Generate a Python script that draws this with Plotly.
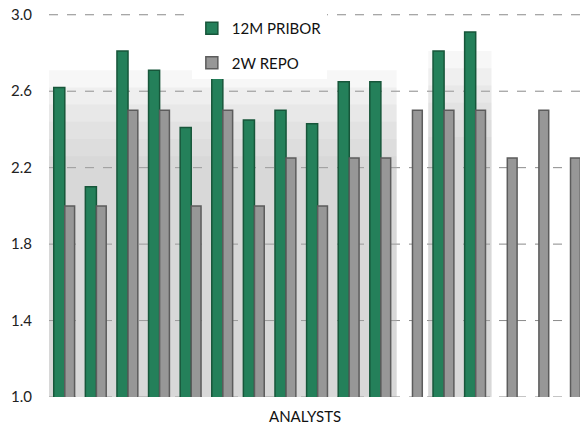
import plotly.graph_objects as go

analysts = [f"A{i}" for i in range(1, 18)]
pribor_12m = [2.62, 2.10, 2.81, 2.71, 2.41, 2.70, 2.45, 2.50, 2.43, 2.65, 2.65, None, 2.81, 2.91, None, None, None]
repo_2w = [2.0, 2.0, 2.5, 2.5, 2.0, 2.5, 2.0, 2.25, 2.0, 2.25, 2.25, 2.5, 2.5, 2.5, 2.25, 2.5, 2.25]
y_ticks = [1.0, 1.4, 1.8, 2.2, 2.6, 3.0]

FONT = "Lato, 'Open Sans', sans-serif"

fig = go.Figure()

fig.add_trace(go.Bar(
    x=analysts, y=pribor_12m, name="12M PRIBOR",
    width=0.35, offset=-0.35,
    marker=dict(color="#24805a", line=dict(color="#17563a", width=1.5)),
    legendgroup="a",
))
fig.add_trace(go.Bar(
    x=analysts, y=repo_2w, name="2W REPO",
    width=0.31, offset=0.0,
    marker=dict(color="#979797", line=dict(color="#5c5c5c", width=1.5)),
    legendgroup="b",
))

# soft grey shadow behind runs of groups that have a green bar
runs = []
start = None
for i, v in enumerate(pribor_12m + [None]):
    if v is not None and start is None:
        start = i
    elif v is None and start is not None:
        runs.append((start, i - 1))
        start = None
for a, b in runs:
    top = max(pribor_12m[a:b + 1]) - 0.1
    for k in range(6):
        fig.add_shape(
            type="rect", xref="x", yref="y", layer="below",
            x0=a - 0.5, x1=b + 0.5, y0=1.0, y1=top - k * 0.09,
            fillcolor="rgba(176,176,176,0.1)", line=dict(width=0),
        )

# dashed grid lines drawn over the shadow, under the bars
for t in y_ticks:
    fig.add_shape(
        type="line", xref="paper", yref="y", layer="below",
        x0=0, x1=1, y0=t, y1=t,
        line=dict(color="#8a8a8a", width=1, dash="dash"),
    )

fig.add_annotation(
    text="ANALYSTS", xref="paper", yref="paper", x=0.482, y=-0.02,
    xanchor="center", yanchor="top", showarrow=False,
    font=dict(family=FONT, size=15, color="#111"),
)

fig.update_layout(
    width=580, height=431,
    margin=dict(l=49, r=0, t=14, b=34),
    barmode="overlay",
    plot_bgcolor="white", paper_bgcolor="white",
    font=dict(family=FONT, size=15, color="#222"),
    showlegend=True,
    legend=dict(
        x=0.269, y=1.005, xanchor="left", yanchor="top",
        bgcolor="white", borderwidth=0,
        font=dict(family=FONT, size=15, color="#111"),
        tracegroupgap=12, entrywidth=115, traceorder="grouped",
    ),
    xaxis=dict(
        range=[-0.5, 16.3], showticklabels=False, showgrid=False,
        zeroline=False, showline=False, ticks="",
    ),
    yaxis=dict(
        range=[1.0, 3.004], tickvals=y_ticks, ticktext=[f"{v:.1f}" for v in y_ticks],
        showgrid=False, zeroline=False, showline=False, ticks="", ticklabelstandoff=16,
        tickfont=dict(family=FONT, size=15, color="#222"),
    ),
)

fig.write_html("out.html")
